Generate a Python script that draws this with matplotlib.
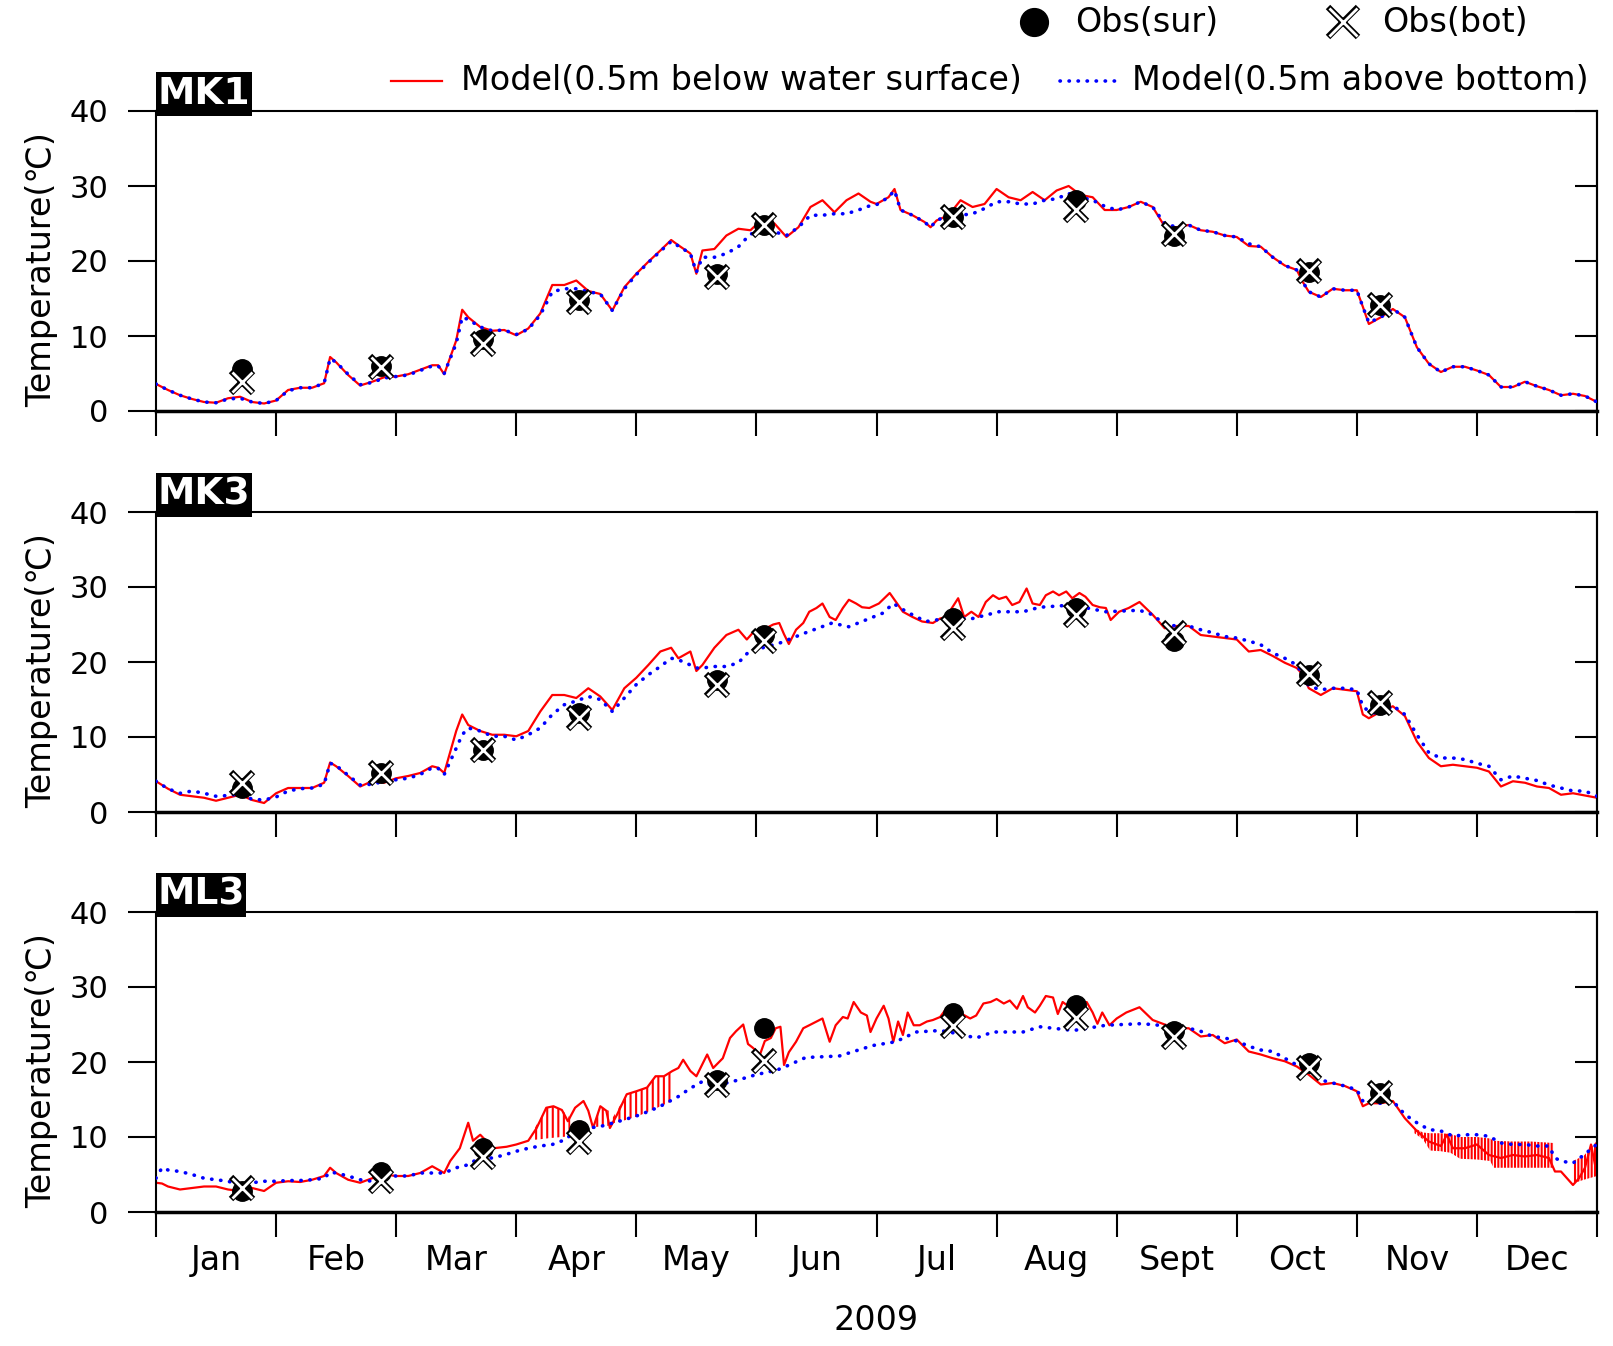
import numpy as np
import matplotlib
matplotlib.use('Agg')
import matplotlib.pyplot as plt
from matplotlib.lines import Line2D
from matplotlib.patches import Rectangle

plt.rcParams['font.family'] = ['DejaVu Sans']
plt.rcParams['hatch.linewidth'] = 1.5

months = ['Jan', 'Feb', 'Mar', 'Apr', 'May', 'Jun', 'Jul', 'Aug', 'Sept', 'Oct', 'Nov', 'Dec']

# x positions are in months from 1 Jan 2009 (each month drawn the same width)
obs_x = [0.72, 1.87, 2.72, 3.52, 4.67, 5.06, 6.64, 7.66, 8.48, 9.60, 10.19]

# ---- MK1 ----
mk1_x = [0.0, 0.1, 0.2, 0.3, 0.4, 0.5, 0.6, 0.7, 0.8, 0.9,
         1.0, 1.1, 1.2, 1.3, 1.4, 1.45, 1.5, 1.6, 1.7, 1.8, 1.9,
         2.0, 2.1, 2.2, 2.3, 2.35, 2.4, 2.5, 2.55, 2.6, 2.7, 2.8, 2.9,
         3.0, 3.1, 3.2, 3.3, 3.4, 3.5, 3.6, 3.7, 3.8, 3.9,
         4.0, 4.1, 4.2, 4.29, 4.35, 4.45, 4.5, 4.55, 4.65, 4.75, 4.85, 4.95,
         5.05, 5.15, 5.25, 5.35, 5.45, 5.55, 5.65, 5.75, 5.85, 5.95,
         6.0, 6.1, 6.15, 6.2, 6.3, 6.4, 6.45, 6.5, 6.6, 6.7, 6.8, 6.9,
         7.0, 7.1, 7.2, 7.3, 7.4, 7.5, 7.6, 7.7, 7.8, 7.9,
         8.0, 8.1, 8.2, 8.3, 8.4, 8.5, 8.6, 8.7, 8.8, 8.9,
         9.0, 9.1, 9.2, 9.3, 9.4, 9.5, 9.55, 9.6, 9.7, 9.8, 9.9,
         10.0, 10.05, 10.1, 10.2, 10.3, 10.4, 10.5, 10.6, 10.7, 10.8, 10.9,
         11.0, 11.1, 11.2, 11.3, 11.4, 11.5, 11.6, 11.7, 11.8, 11.9,
         12.0]

mk1_sur = [3.6, 2.8, 2.1, 1.6, 1.2, 1.1, 1.7, 1.9, 1.2, 1.0,
           1.4, 2.8, 3.1, 3.1, 3.7, 7.2, 6.5, 4.8, 3.4, 3.9, 4.5,
           4.6, 4.9, 5.5, 6.1, 6.1, 4.9, 9.4, 13.5, 12.5, 11.2, 10.7, 10.8,
           10.1, 11.0, 13.0, 16.8, 16.8, 17.4, 16.0, 15.6, 13.4, 16.5,
           18.3, 19.9, 21.4, 22.8, 22.1, 21.0, 18.3, 21.4, 21.6, 23.4, 24.3, 24.1,
           25.6, 25.0, 23.2, 24.5, 27.2, 28.1, 26.5, 28.1, 29.0, 27.9,
           27.6, 28.5, 29.6, 26.8, 26.1, 25.2, 24.5, 25.4, 26.1, 28.1, 27.2, 27.6,
           29.6, 28.5, 28.1, 29.2, 28.1, 29.4, 30.0, 28.8, 28.5, 26.8,
           26.8, 27.2, 27.9, 27.2, 24.6, 24.5, 24.8, 24.1, 23.9, 23.4,
           23.2, 22.0, 21.9, 20.5, 19.4, 18.8, 17.2, 15.9, 15.2, 16.3, 16.1,
           16.1, 13.9, 11.6, 12.5, 13.6, 12.5, 8.5, 6.3, 5.2, 5.9, 5.9,
           5.4, 4.8, 3.2, 3.2, 3.9, 3.3, 2.8, 2.1, 2.3, 2.0,
           1.2]

mk1_bot = [3.6, 2.8, 2.1, 1.6, 1.2, 1.1, 1.6, 1.7, 1.2, 1.0,
           1.4, 2.7, 3.1, 3.1, 3.7, 7.0, 6.5, 4.9, 3.5, 3.8, 4.4,
           4.6, 4.8, 5.4, 6.0, 6.0, 5.0, 9.0, 12.5, 12.2, 11.2, 10.7, 10.8,
           10.2, 10.9, 12.8, 15.9, 16.3, 16.3, 15.9, 15.6, 13.4, 16.3,
           18.2, 19.8, 21.3, 22.6, 22.0, 21.0, 18.5, 20.5, 20.5, 21.0, 21.9, 23.6,
           23.9, 23.9, 23.4, 24.5, 26.1, 26.1, 26.3, 26.3, 26.8, 27.4,
           27.5, 28.5, 29.4, 26.8, 26.1, 25.2, 24.5, 25.4, 26.1, 26.1, 26.3, 27.0,
           27.9, 27.9, 27.6, 27.6, 28.1, 28.3, 29.0, 28.5, 28.1, 27.3,
           26.8, 27.2, 27.9, 27.2, 25.0, 24.5, 24.8, 24.1, 23.9, 23.4,
           23.2, 22.3, 21.9, 20.5, 19.4, 18.8, 17.2, 15.9, 15.2, 16.3, 16.1,
           16.1, 13.9, 11.8, 12.5, 13.6, 12.5, 8.5, 6.3, 5.2, 5.9, 5.9,
           5.4, 4.8, 3.2, 3.2, 3.9, 3.3, 2.8, 2.1, 2.3, 2.0,
           1.2]

# ---- MK3 ----
mk3_sur_x = [0.0, 0.1, 0.2, 0.3, 0.4, 0.5, 0.6, 0.7, 0.8, 0.9,
             1.0, 1.1, 1.2, 1.3, 1.4, 1.45, 1.5, 1.6, 1.7, 1.8, 1.9,
             2.0, 2.1, 2.2, 2.3, 2.35, 2.4, 2.5, 2.55, 2.6, 2.7, 2.8, 2.9,
             3.0, 3.1, 3.2, 3.3, 3.4, 3.5, 3.6, 3.7, 3.8, 3.9,
             4.0, 4.1, 4.2, 4.29, 4.35, 4.45, 4.5, 4.55, 4.65, 4.75, 4.85,
             4.92, 4.97, 5.03, 5.08, 5.14, 5.19, 5.23, 5.27, 5.33, 5.39,
             5.44, 5.50, 5.55, 5.61, 5.66, 5.72, 5.77, 5.83, 5.88, 5.94,
             6.02, 6.11, 6.15, 6.22, 6.30, 6.38, 6.47, 6.53, 6.58, 6.68,
             6.73, 6.79, 6.85, 6.91, 6.97,
             7.02, 7.08, 7.13, 7.19, 7.25, 7.30, 7.36, 7.41, 7.47, 7.52,
             7.58, 7.63, 7.69, 7.74, 7.80, 7.86, 7.91, 7.95,
             8.02, 8.10, 8.19, 8.3, 8.4, 8.5, 8.6, 8.7, 8.8, 8.9,
             9.0, 9.1, 9.2, 9.3, 9.4, 9.5, 9.55, 9.6, 9.7, 9.8, 9.9,
             10.0, 10.05, 10.1, 10.2, 10.3, 10.4, 10.5, 10.6, 10.7, 10.8, 10.9,
             11.0, 11.1, 11.2, 11.3, 11.4, 11.5, 11.6, 11.7, 11.8, 11.9,
             12.0]

mk3_sur = [4.1, 3.1, 2.3, 2.1, 1.9, 1.5, 1.9, 2.3, 1.6, 1.2,
           2.5, 3.2, 3.2, 3.2, 3.9, 6.6, 6.1, 4.8, 3.4, 4.1, 3.9,
           4.5, 4.8, 5.2, 6.1, 5.9, 5.2, 10.8, 13.0, 11.6, 10.8, 10.3, 10.3,
           10.1, 10.8, 13.4, 15.6, 15.6, 15.2, 16.5, 15.4, 13.6, 16.5,
           17.9, 19.6, 21.4, 21.9, 20.5, 21.4, 18.8, 19.6, 21.9, 23.6, 24.3,
           23.0, 23.9, 24.3, 24.5, 25.0, 25.2, 23.7, 22.4, 24.3, 25.2,
           26.7, 27.2, 27.8, 26.0, 25.6, 27.2, 28.3, 27.8, 27.3, 27.2,
           27.8, 29.2, 28.3, 26.7, 26.0, 25.4, 25.2, 25.8, 26.0, 28.5,
           26.0, 26.7, 26.0, 28.0, 28.9,
           28.4, 28.7, 27.6, 28.0, 29.8, 27.8, 27.6, 28.9, 29.4, 28.9,
           29.4, 28.5, 29.2, 28.7, 27.6, 27.3, 27.2, 25.6,
           26.7, 27.2, 28.0, 26.3, 24.5, 24.8, 24.8, 23.6, 23.4, 23.2,
           23.0, 21.4, 21.6, 20.8, 19.9, 19.2, 18.3, 16.5, 15.6, 16.5, 16.3,
           16.1, 13.0, 12.5, 13.4, 14.1, 12.8, 9.4, 7.2, 6.1, 6.3, 6.1,
           5.9, 5.4, 3.4, 4.1, 3.9, 3.4, 3.2, 2.3, 2.5, 2.2,
           1.9]

mk3_bot_x = [0.0, 0.1, 0.2, 0.3, 0.4, 0.5, 0.6, 0.7, 0.8, 0.9,
             1.0, 1.1, 1.2, 1.3, 1.4, 1.45, 1.5, 1.6, 1.7, 1.8, 1.9,
             2.0, 2.1, 2.2, 2.3, 2.35, 2.4, 2.5, 2.55, 2.6, 2.7, 2.8, 2.9,
             3.0, 3.1, 3.2, 3.3, 3.4, 3.5, 3.6, 3.7, 3.8, 3.9,
             4.0, 4.1, 4.2, 4.29, 4.35, 4.45, 4.5, 4.55, 4.65, 4.75, 4.85, 4.95,
             5.03, 5.19, 5.41, 5.63, 5.77, 5.91, 6.05, 6.14, 6.25, 6.41,
             6.58, 6.80, 7.02, 7.22, 7.36, 7.63, 7.91, 8.19,
             8.3, 8.4, 8.5, 8.6, 8.7, 8.8, 8.9,
             9.0, 9.1, 9.2, 9.3, 9.4, 9.5, 9.55, 9.6, 9.7, 9.8, 9.9,
             10.0, 10.05, 10.1, 10.2, 10.3, 10.4, 10.5, 10.6, 10.7, 10.8, 10.9,
             11.0, 11.1, 11.2, 11.3, 11.4, 11.5, 11.6, 11.7, 11.8, 11.9,
             12.0]

mk3_bot = [4.1, 3.1, 2.5, 2.8, 2.5, 2.1, 2.2, 2.4, 1.7, 1.6,
           2.0, 2.8, 3.1, 3.2, 3.7, 6.5, 6.2, 4.9, 3.6, 3.7, 4.1,
           4.3, 4.5, 5.0, 5.9, 5.8, 5.0, 8.5, 10.3, 11.2, 10.8, 10.1, 10.1,
           9.6, 10.3, 11.2, 13.0, 14.3, 14.8, 15.4, 15.0, 13.4, 15.2,
           17.0, 18.3, 19.4, 20.5, 20.3, 19.6, 19.2, 19.2, 19.4, 19.4, 19.9, 21.6,
           21.8, 22.5, 23.9, 25.2, 24.7, 25.6, 26.5, 27.8, 26.7, 25.4,
           25.8, 25.8, 26.7, 26.7, 27.3, 27.6, 26.7, 26.9,
           26.3, 25.0, 24.8, 24.8, 24.3, 23.9, 23.4,
           23.2, 22.8, 22.3, 21.2, 20.5, 19.6, 18.3, 16.8, 16.3, 16.5, 16.5,
           16.3, 14.1, 13.4, 13.0, 14.2, 13.0, 10.3, 7.9, 7.2, 7.2, 7.0,
           6.5, 6.1, 4.3, 4.8, 4.5, 4.2, 3.6, 3.2, 2.8, 2.8,
           2.1]

# ---- ML3 ----
ml3_sur_x = [0.0, 0.05, 0.1, 0.2, 0.3, 0.4, 0.5, 0.6, 0.7, 0.8, 0.9,
             1.0, 1.1, 1.2, 1.3, 1.4, 1.45, 1.5, 1.6, 1.7, 1.8, 1.9,
             2.0, 2.1, 2.2, 2.3, 2.4, 2.45, 2.53, 2.60, 2.64, 2.70, 2.81, 2.92,
             3.00, 3.10, 3.17, 3.25, 3.31, 3.38, 3.43, 3.49, 3.56, 3.60,
             3.64, 3.70, 3.75, 3.78, 3.84, 3.92,
             4.00, 4.09, 4.16, 4.23, 4.30, 4.35, 4.39, 4.45, 4.50, 4.59,
             4.64, 4.72, 4.78, 4.83, 4.89, 4.93, 4.97,
             5.03, 5.07, 5.12, 5.16, 5.20, 5.23, 5.27, 5.33, 5.39, 5.44,
             5.50, 5.55, 5.61, 5.66, 5.72, 5.76, 5.81, 5.87, 5.92, 5.95,
             6.00, 6.06, 6.10, 6.14, 6.18, 6.22, 6.26, 6.31, 6.36, 6.42,
             6.47, 6.53, 6.58, 6.69, 6.78, 6.83, 6.89, 6.95,
             7.00, 7.06, 7.11, 7.17, 7.22, 7.26, 7.32, 7.36, 7.41, 7.47,
             7.51, 7.55, 7.61, 7.66, 7.75, 7.80, 7.84, 7.88, 7.94,
             8.00, 8.08, 8.19, 8.3, 8.4, 8.5, 8.6, 8.7, 8.8, 8.9,
             9.0, 9.1, 9.2, 9.3, 9.4, 9.5, 9.6, 9.7, 9.8, 9.9,
             10.0, 10.05, 10.1, 10.2, 10.3, 10.4, 10.5, 10.6, 10.7, 10.75, 10.8, 10.9,
             11.0, 11.1, 11.2, 11.3, 11.4, 11.5, 11.6, 11.65, 11.7, 11.8, 11.85, 11.9, 11.95,
             12.0]

ml3_sur = [3.9, 3.8, 3.4, 3.0, 3.2, 3.4, 3.4, 3.0, 2.8, 3.2, 2.8,
           3.9, 4.1, 4.0, 4.3, 4.8, 5.9, 5.2, 4.3, 3.9, 4.5, 5.0,
           4.8, 4.8, 5.2, 6.1, 5.2, 6.8, 8.5, 11.9, 9.5, 10.3, 8.5, 8.7,
           9.0, 9.5, 11.2, 13.9, 14.1, 13.6, 12.1, 13.9, 14.8, 13.5,
           11.2, 14.1, 13.5, 11.2, 13.0, 15.7,
           16.1, 16.6, 18.1, 18.1, 18.8, 19.2, 20.3, 18.8, 18.1, 21.0,
           19.2, 20.5, 23.2, 24.1, 25.0, 22.4, 21.9,
           21.0, 22.8, 23.2, 24.5, 24.7, 19.6, 21.3, 22.7, 24.5, 24.9,
           25.4, 25.8, 22.7, 24.9, 26.0, 25.8, 28.0, 26.6, 26.2, 24.0,
           25.8, 27.5, 25.8, 22.7, 25.4, 23.6, 26.6, 24.9, 24.9, 25.4,
           25.6, 26.0, 27.1, 26.6, 25.8, 26.2, 27.8, 28.0,
           28.4, 27.8, 28.2, 27.1, 28.8, 27.3, 26.6, 27.5, 28.8, 28.6,
           26.4, 28.0, 27.3, 27.1, 28.0, 26.6, 25.1, 26.6, 24.9,
           25.8, 26.6, 27.3, 25.6, 25.0, 24.5, 24.5, 23.4, 23.6, 22.5,
           23.0, 21.4, 21.0, 20.5, 20.1, 19.4, 18.3, 17.0, 17.2, 16.8,
           16.1, 14.1, 14.5, 14.5, 14.8, 12.5, 10.8, 9.4, 8.8, 10.3, 8.5, 8.5,
           9.0, 7.6, 7.2, 7.6, 7.4, 7.6, 7.2, 5.4, 5.4, 3.6, 4.5, 5.9, 9.0,
           5.0]

ml3_bot_x = [0.0, 0.05, 0.1, 0.2, 0.3, 0.4, 0.5, 0.6, 0.7, 0.8, 0.9,
             1.0, 1.1, 1.2, 1.3, 1.4, 1.45, 1.5, 1.6, 1.7, 1.8, 1.9,
             2.0, 2.1, 2.2, 2.3, 2.4, 2.5, 2.55, 2.6, 2.65, 2.7, 2.8, 2.9,
             3.0, 3.1, 3.2, 3.25, 3.3, 3.4, 3.5, 3.6, 3.65, 3.7, 3.9,
             4.0, 4.1, 4.2, 4.35, 4.45, 4.55, 4.65, 4.75, 4.85, 4.95,
             5.05, 5.1, 5.15,
             5.23, 5.41, 5.69, 5.97, 6.16, 6.33, 6.53, 6.67, 6.83, 6.97,
             7.22, 7.36, 7.64, 7.91, 8.19,
             8.3, 8.4, 8.5, 8.6, 8.7, 8.8, 8.9,
             9.0, 9.1, 9.2, 9.3, 9.4, 9.5, 9.6, 9.7, 9.8, 9.9,
             10.0, 10.05, 10.1, 10.2, 10.3, 10.4, 10.5, 10.6, 10.7, 10.75, 10.8, 10.9,
             11.0, 11.1, 11.2, 11.3, 11.4, 11.5, 11.6, 11.65, 11.7, 11.8, 11.85, 11.9, 11.95,
             12.0]

ml3_bot = [4.5, 5.9, 5.6, 5.4, 5.0, 4.5, 4.3, 4.1, 3.6, 3.9, 4.1,
           4.1, 4.2, 4.2, 4.3, 4.5, 5.3, 5.2, 4.8, 4.3, 4.1, 4.8,
           4.8, 4.8, 5.2, 5.2, 5.2, 5.9, 6.1, 6.3, 6.8, 7.2, 7.2, 7.6,
           8.1, 8.5, 8.8, 8.9, 9.0, 9.6, 10.8, 11.2, 11.3, 11.4, 12.3,
           12.8, 13.4, 14.1, 15.4, 16.5, 17.4, 16.8, 17.2, 17.6, 18.1,
           18.5, 18.7, 18.8,
           19.3, 20.6, 20.8, 22.2, 22.7, 24.0, 24.2, 23.8, 23.2, 24.0,
           24.0, 24.7, 24.2, 24.9, 25.1,
           25.0, 24.8, 24.3, 24.5, 24.1, 23.4, 23.2,
           22.8, 22.1, 21.6, 21.4, 20.5, 19.6, 18.8, 17.6, 17.2, 16.8,
           16.3, 14.8, 14.5, 14.5, 14.8, 13.0, 11.9, 11.0, 10.8, 10.5, 10.1, 10.3,
           10.3, 10.1, 9.2, 9.0, 9.0, 8.8, 8.8, 7.2, 6.8, 6.5, 7.2, 7.6, 8.5,
           9.0]

# daily min/max spread of the surface model at ML3 (drawn as vertical hatching)
ml3_spread_x = [[3.13, 3.20, 3.25, 3.31, 3.38, 3.45],
                [3.64, 3.70, 3.77],
                [3.80, 3.92, 4.00, 4.09, 4.16, 4.23, 4.30],
                [10.48, 10.55, 10.61, 10.70, 10.78, 10.86, 11.0, 11.11, 11.14, 11.3, 11.45, 11.64],
                [11.80, 11.89, 12.0]]
ml3_spread_lo = [[9.6, 9.7, 9.8, 9.9, 10.0, 10.1],
                 [11.3, 11.4, 11.5],
                 [11.8, 12.3, 12.7, 13.3, 13.8, 14.3, 14.8],
                 [10.5, 9.7, 8.2, 8.1, 7.9, 7.1, 7.0, 6.8, 5.9, 5.9, 5.9, 5.9],
                 [3.8, 4.3, 4.8]]
ml3_spread_hi = [[10.5, 12.5, 13.9, 14.1, 13.6, 12.5],
                 [11.5, 14.1, 13.5],
                 [12.5, 15.7, 16.1, 16.6, 18.1, 18.1, 18.8],
                 [11.2, 10.6, 10.5, 10.5, 10.4, 10.0, 10.0, 9.8, 9.5, 9.4, 9.4, 9.2],
                 [6.8, 7.5, 9.5]]
ml3_spread_hatch = ['|||', '|||', '|||', '|||||', '|||||']

mk1_obs_sur = [5.6, 6.0, 9.6, 14.8, 18.3, 24.8, 25.9, 28.1, 23.4, 18.5, 14.1]
mk1_obs_bot = [3.9, 5.9, 9.0, 14.5, 17.9, 24.8, 25.9, 26.8, 23.6, 18.7, 14.1]
mk3_obs_sur = [3.2, 5.2, 8.3, 13.2, 17.6, 23.6, 25.9, 27.2, 22.8, 18.3, 14.3]
mk3_obs_bot = [3.9, 5.2, 8.3, 12.5, 17.0, 22.8, 24.5, 26.3, 23.9, 18.4, 14.5]
ml3_obs_sur = [2.8, 5.4, 8.5, 11.0, 17.6, 24.6, 26.5, 27.6, 24.1, 19.9, 15.9]
ml3_obs_bot = [3.2, 4.1, 7.4, 9.4, 17.0, 20.1, 24.8, 25.9, 23.4, 19.2, 15.9]

panels = [
    ('MK1', mk1_x, mk1_sur, mk1_x, mk1_bot, mk1_obs_sur, mk1_obs_bot),
    ('MK3', mk3_sur_x, mk3_sur, mk3_bot_x, mk3_bot, mk3_obs_sur, mk3_obs_bot),
    ('ML3', ml3_sur_x, ml3_sur, ml3_bot_x, ml3_bot, ml3_obs_sur, ml3_obs_bot),
]

W, H = 1613, 1346
fig = plt.figure(figsize=(W / 100, H / 100), dpi=100)
FS = 24
FS_TICK = 22
blue_dots = dict(color='blue', lw=2.6, linestyle=(0, (0.1, 2.4)), dash_capstyle='round')

ax_left = 156 / W
ax_width = (1597 - 156) / W
ax_height = 300 / H
bottoms_px = [411, 812, 1212]

for i, (name, sx, sur, bx, bot, osur, obot) in enumerate(panels):
    ax = fig.add_axes([ax_left, 1 - bottoms_px[i] / H, ax_width, ax_height])
    if name == 'ML3':
        for hx, lo, hi, hp in zip(ml3_spread_x, ml3_spread_lo, ml3_spread_hi, ml3_spread_hatch):
            ax.fill_between(hx, lo, hi, facecolor='none', edgecolor='red',
                            hatch=hp, linewidth=0, zorder=1)
    ax.plot(sx, sur, color='red', lw=1.6, zorder=2)
    ax.plot(bx, bot, zorder=3, **blue_dots)
    ax.plot(obs_x, osur, 'o', color='black', ms=14, zorder=5)
    ax.plot(obs_x, obot, 'x', color='black', ms=16, mew=4.5, zorder=6)
    ax.plot(obs_x, obot, 'x', color='white', ms=14.5, mew=2, zorder=7)

    ax.set_xlim(0, 12)
    ax.set_ylim(0, 40)
    ax.set_xticks(range(13))
    ax.set_xticklabels([])
    ax.set_yticks([0, 10, 20, 30, 40])
    ax.tick_params(axis='x', which='major', direction='out', length=18, width=1.5)
    ax.tick_params(axis='y', direction='out', length=20, width=1.5, labelsize=FS_TICK, pad=14)
    if i == 2:
        ax.set_xticks(np.arange(0.5, 12, 1), minor=True)
        ax.set_xticklabels(months, minor=True)
        ax.tick_params(axis='x', which='minor', length=0, labelsize=FS, pad=23)

    sec = ax.secondary_yaxis('right')
    sec.set_yticks([0, 10, 20, 30, 40])
    sec.tick_params(direction='in', length=16, width=1.5, labelright=False)
    sec.spines['right'].set_linewidth(1.5)

    for s in ax.spines.values():
        s.set_linewidth(1.5)
    ax.spines['bottom'].set_linewidth(2.5)

    ax.set_ylabel('Temperature(\u2103)', fontsize=FS)
    ax.yaxis.set_label_coords(-0.068, 0.47)

    box_w = 0.0666 if name != 'ML3' else 0.0625
    ax.add_patch(Rectangle((0, 0.983), box_w, 0.147, transform=ax.transAxes,
                           facecolor='black', edgecolor='none', clip_on=False, zorder=10))
    ax.text(box_w / 2, 1.057, name, transform=ax.transAxes, color='white',
            fontweight='bold', fontsize=27, ha='center', va='center', zorder=11)

# legend, placed in figure pixel positions
def fx(px):
    return px / W

def fy(py):
    return 1 - py / H

fig.add_artist(Line2D([fx(1034)], [fy(22)], marker='o', color='black', ms=20, lw=0))
fig.text(fx(1075), fy(22), 'Obs(sur)', fontsize=FS, va='center', ha='left')
fig.add_artist(Line2D([fx(1343)], [fy(22)], marker='x', color='black', ms=22, mew=4.5, lw=0))
fig.add_artist(Line2D([fx(1343)], [fy(22)], marker='x', color='white', ms=20.5, mew=2, lw=0))
fig.text(fx(1382), fy(22), 'Obs(bot)', fontsize=FS, va='center', ha='left')

fig.add_artist(Line2D([fx(391), fx(442)], [fy(81), fy(81)], color='red', lw=1.6))
fig.text(fx(461), fy(81), 'Model(0.5m below water surface)', fontsize=FS, va='center', ha='left')
fig.add_artist(Line2D([fx(1060), fx(1116)], [fy(81), fy(81)], **blue_dots))
fig.text(fx(1132), fy(81), 'Model(0.5m above bottom)', fontsize=FS, va='center', ha='left')

fig.text(fx(876), fy(1320), '2009', fontsize=FS, ha='center', va='center')

fig.savefig('out.png', dpi=100)
